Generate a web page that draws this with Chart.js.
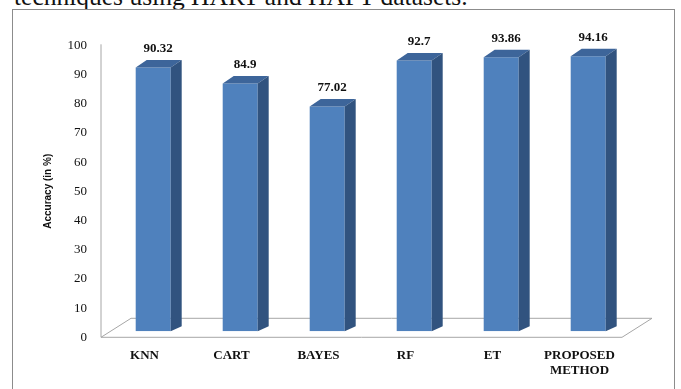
<!DOCTYPE html>
<html>
<head>
<meta charset="utf-8">
<script src="https://cdn.jsdelivr.net/npm/chart.js@4/dist/chart.umd.min.js"></script>
<style>
  html, body { margin: 0; padding: 0; background: #fff; overflow: hidden; }
  #wrap { position: relative; width: 681px; height: 389px; overflow: hidden; }
  #caption {
    position: absolute; left: 14px; top: -16px; white-space: nowrap;
    font-family: "Liberation Serif", "Times New Roman", serif;
    font-size: 25.5px; line-height: 1; color: #111;
  }
  #frame {
    position: absolute; left: 12px; top: 9px; width: 663px; height: 420px;
    border: 1px solid #8c8c8c; box-sizing: border-box;
  }
  #chart { position: absolute; left: 0; top: 0; }
</style>
</head>
<body>
<div id="wrap">
  <div id="caption">techniques using HART and HAPT datasets.</div>
  <div id="frame"></div>
  <canvas id="chart" width="681" height="389"></canvas>
</div>
<script>
// Classifier names along the bottom and their accuracy (%)
const methods = ['KNN', 'CART', 'BAYES', 'RF', 'ET', ['PROPOSED', 'METHOD']];
const accuracy = [90.32, 84.9, 77.02, 92.7, 93.86, 94.16];
const yTicks = [0, 10, 20, 30, 40, 50, 60, 70, 80, 90, 100];
const yTitle = 'Accuracy (in %)';

const FRONT = '#4f81bd';
const TOP = '#3d659a';
const SIDE = '#31537f';
const SERIF = '"Liberation Serif", "Times New Roman", serif';

// depth of the extruded columns and the floor
const DX = 11, DY_TOP = 7.5, DY_BOTTOM = 5;
const FLOOR_DEPTH_X = 30, FLOOR_DEPTH_Y = 19;

const columns3d = {
  id: 'columns3d',
  beforeDatasetsDraw(chart) {
    const { ctx, chartArea, scales } = chart;
    const y0 = scales.y.getPixelForValue(0) + 6;      // front edge of the floor
    const yTop = scales.y.getPixelForValue(100) + 5;  // top of the value axis
    const left = chartArea.left - 8.7;
    const right = chartArea.right - 9.7;
    ctx.save();
    ctx.strokeStyle = '#a6a6a6';
    ctx.lineWidth = 1;
    ctx.beginPath();
    ctx.moveTo(left, y0);
    ctx.lineTo(right, y0);
    ctx.lineTo(right + FLOOR_DEPTH_X, y0 - FLOOR_DEPTH_Y);
    ctx.lineTo(left + FLOOR_DEPTH_X, y0 - FLOOR_DEPTH_Y);
    ctx.closePath();
    ctx.stroke();
    ctx.beginPath();
    ctx.moveTo(left, yTop);
    ctx.lineTo(left, y0);
    ctx.stroke();
    ctx.restore();
  },
  afterDatasetsDraw(chart) {
    const { ctx } = chart;
    const meta = chart.getDatasetMeta(0);
    ctx.save();
    meta.data.forEach((bar, i) => {
      const w = bar.width;
      const x0 = bar.x - w / 2, x1 = bar.x + w / 2;
      const top = bar.y, base = bar.base;
      // top face
      ctx.fillStyle = TOP;
      ctx.beginPath();
      ctx.moveTo(x0, top);
      ctx.lineTo(x1, top);
      ctx.lineTo(x1 + DX, top - DY_TOP);
      ctx.lineTo(x0 + DX, top - DY_TOP);
      ctx.closePath();
      ctx.fill();
      // side face
      ctx.fillStyle = SIDE;
      ctx.beginPath();
      ctx.moveTo(x1, top);
      ctx.lineTo(x1 + DX, top - DY_TOP);
      ctx.lineTo(x1 + DX, base - DY_BOTTOM);
      ctx.lineTo(x1, base);
      ctx.closePath();
      ctx.fill();
      // value label above the column
      ctx.fillStyle = '#111';
      ctx.font = 'bold 13px ' + SERIF;
      ctx.textAlign = 'center';
      ctx.textBaseline = 'middle';
      ctx.fillText(String(accuracy[i]), bar.x + 5, top - 18.5);
    });
    // value axis title
    ctx.translate(48, (chart.scales.y.getPixelForValue(0) + chart.scales.y.getPixelForValue(100)) / 2 + 6);
    ctx.rotate(-Math.PI / 2);
    ctx.font = 'bold 10px "Liberation Sans", Arial, sans-serif';
    ctx.fillStyle = '#111';
    ctx.textAlign = 'center';
    ctx.textBaseline = 'middle';
    ctx.fillText(yTitle, 0, 0);
    ctx.restore();
  }
};

new Chart(document.getElementById('chart'), {
  type: 'bar',
  data: {
    labels: methods,
    datasets: [{
      data: accuracy,
      backgroundColor: FRONT,
      borderWidth: 0,
      barPercentage: 0.4023,
      categoryPercentage: 1
    }]
  },
  options: {
    responsive: false,
    animation: false,
    devicePixelRatio: 1,
    layout: { padding: { left: 49.7, right: 49.3, top: 39.3, bottom: 7.7 } },
    plugins: { legend: { display: false }, tooltip: { enabled: false } },
    scales: {
      x: {
        grid: { display: false, drawTicks: false },
        border: { display: false },
        afterFit: s => { s.height = 50; },
        ticks: {
          labelOffset: -8.7,
          padding: 17,
          color: '#111',
          font: { family: SERIF, size: 13, weight: 'bold', lineHeight: 1.15 }
        }
      },
      y: {
        min: 0,
        max: 100,
        grid: { display: false, drawTicks: false },
        border: { display: false },
        afterFit: s => { s.width = 60; },
        afterBuildTicks: s => { s.ticks = yTicks.map(v => ({ value: v })); },
        ticks: {
          labelOffset: 6,
          padding: 22.7,
          color: '#111',
          font: { family: SERIF, size: 13 }
        }
      }
    }
  },
  plugins: [columns3d]
});
</script>
</body>
</html>
